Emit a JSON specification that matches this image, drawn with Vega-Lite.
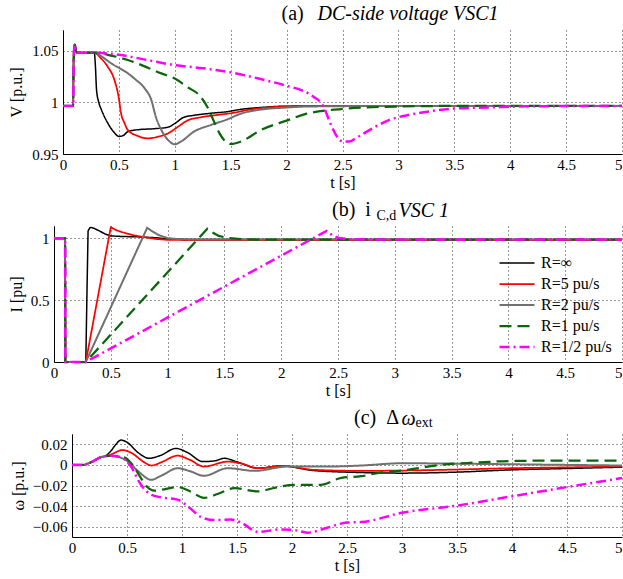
{
  "$schema": "https://vega.github.io/schema/vega-lite/v6.json",
  "padding": {"left": 7, "top": 3, "right": 0, "bottom": 0},
  "background": "white",
  "config": {
    "font": "Liberation Serif",
    "view": {"stroke": null},
    "axis": {
      "labelFont": "Liberation Serif", "titleFont": "Liberation Serif",
      "labelFontSize": 15, "titleFontSize": 16, "labelColor": "#000", "titleColor": "#000",
      "titleFontWeight": "normal", "domainColor": "#000", "domainWidth": 1,
      "ticks": false, "gridColor": "#000", "gridDash": [1, 3], "gridOpacity": 0.8, "gridWidth": 1
    },
    "title": {
      "font": "Liberation Serif", "fontSize": 20, "fontWeight": "normal", "color": "#000",
      "anchor": "start", "frame": "group"
    },
    "legend": {
      "labelFont": "Liberation Serif", "labelFontSize": 16, "labelColor": "#000",
      "symbolType": "stroke", "symbolSize": 1225, "clipHeight": 16, "rowPadding": 5,
      "labelOffset": 5, "padding": 0, "title": null
    }
  },
  "datasets": {
    "a": [
      {"s": "R=∞", "t": 0, "v": 0.9965}, {"s": "R=∞", "t": 0.09, "v": 0.9965}, {"s": "R=∞", "t": 0.095, "v": 1.04}, {"s": "R=∞", "t": 0.105, "v": 1.056}, {"s": "R=∞", "t": 0.115, "v": 1.05}, {"s": "R=∞", "t": 0.13, "v": 1.048}, {"s": "R=∞", "t": 0.28, "v": 1.048},
      {"s": "R=∞", "t": 0.29, "v": 1.035}, {"s": "R=∞", "t": 0.3, "v": 1.012}, {"s": "R=∞", "t": 0.32, "v": 1.0}, {"s": "R=∞", "t": 0.343, "v": 0.993}, {"s": "R=∞", "t": 0.4, "v": 0.98}, {"s": "R=∞", "t": 0.46, "v": 0.9706}, {"s": "R=∞", "t": 0.5, "v": 0.967}, {"s": "R=∞", "t": 0.54, "v": 0.968}, {"s": "R=∞", "t": 0.58, "v": 0.9716}, {"s": "R=∞", "t": 0.67, "v": 0.9735}, {"s": "R=∞", "t": 0.82, "v": 0.9745}, {"s": "R=∞", "t": 0.94, "v": 0.976}, {"s": "R=∞", "t": 1.0, "v": 0.9795}, {"s": "R=∞", "t": 1.08, "v": 0.9855}, {"s": "R=∞", "t": 1.17, "v": 0.9874}, {"s": "R=∞", "t": 1.32, "v": 0.9894}, {"s": "R=∞", "t": 1.47, "v": 0.991}, {"s": "R=∞", "t": 1.59, "v": 0.9932}, {"s": "R=∞", "t": 1.77, "v": 0.995}, {"s": "R=∞", "t": 2.0, "v": 0.9963}, {"s": "R=∞", "t": 2.5, "v": 0.9965}, {"s": "R=∞", "t": 5, "v": 0.9965},

      {"s": "R=5 pu/s", "t": 0, "v": 0.9965}, {"s": "R=5 pu/s", "t": 0.09, "v": 0.9965}, {"s": "R=5 pu/s", "t": 0.095, "v": 1.04}, {"s": "R=5 pu/s", "t": 0.105, "v": 1.056}, {"s": "R=5 pu/s", "t": 0.115, "v": 1.05}, {"s": "R=5 pu/s", "t": 0.13, "v": 1.048}, {"s": "R=5 pu/s", "t": 0.28, "v": 1.048},
      {"s": "R=5 pu/s", "t": 0.34, "v": 1.0426}, {"s": "R=5 pu/s", "t": 0.4, "v": 1.0345}, {"s": "R=5 pu/s", "t": 0.46, "v": 1.0216}, {"s": "R=5 pu/s", "t": 0.497, "v": 1.0055}, {"s": "R=5 pu/s", "t": 0.52, "v": 0.989}, {"s": "R=5 pu/s", "t": 0.55, "v": 0.98}, {"s": "R=5 pu/s", "t": 0.58, "v": 0.9732}, {"s": "R=5 pu/s", "t": 0.67, "v": 0.9674}, {"s": "R=5 pu/s", "t": 0.76, "v": 0.9651}, {"s": "R=5 pu/s", "t": 0.85, "v": 0.9668}, {"s": "R=5 pu/s", "t": 0.94, "v": 0.97}, {"s": "R=5 pu/s", "t": 1.03, "v": 0.9765}, {"s": "R=5 pu/s", "t": 1.11, "v": 0.9823}, {"s": "R=5 pu/s", "t": 1.23, "v": 0.9855}, {"s": "R=5 pu/s", "t": 1.38, "v": 0.9878}, {"s": "R=5 pu/s", "t": 1.53, "v": 0.99}, {"s": "R=5 pu/s", "t": 1.65, "v": 0.9926}, {"s": "R=5 pu/s", "t": 1.83, "v": 0.995}, {"s": "R=5 pu/s", "t": 2.06, "v": 0.9962}, {"s": "R=5 pu/s", "t": 2.5, "v": 0.9966}, {"s": "R=5 pu/s", "t": 5, "v": 0.9966},

      {"s": "R=2 pu/s", "t": 0, "v": 0.9965}, {"s": "R=2 pu/s", "t": 0.09, "v": 0.9965}, {"s": "R=2 pu/s", "t": 0.095, "v": 1.04}, {"s": "R=2 pu/s", "t": 0.105, "v": 1.056}, {"s": "R=2 pu/s", "t": 0.115, "v": 1.05}, {"s": "R=2 pu/s", "t": 0.13, "v": 1.048}, {"s": "R=2 pu/s", "t": 0.28, "v": 1.048},
      {"s": "R=2 pu/s", "t": 0.35, "v": 1.044}, {"s": "R=2 pu/s", "t": 0.43, "v": 1.0378}, {"s": "R=2 pu/s", "t": 0.58, "v": 1.0281}, {"s": "R=2 pu/s", "t": 0.65, "v": 1.022}, {"s": "R=2 pu/s", "t": 0.73, "v": 1.0136}, {"s": "R=2 pu/s", "t": 0.79, "v": 1.0023}, {"s": "R=2 pu/s", "t": 0.83, "v": 0.9861}, {"s": "R=2 pu/s", "t": 0.88, "v": 0.9732}, {"s": "R=2 pu/s", "t": 0.94, "v": 0.9635}, {"s": "R=2 pu/s", "t": 1.0, "v": 0.9594}, {"s": "R=2 pu/s", "t": 1.055, "v": 0.962}, {"s": "R=2 pu/s", "t": 1.17, "v": 0.9716}, {"s": "R=2 pu/s", "t": 1.32, "v": 0.978}, {"s": "R=2 pu/s", "t": 1.47, "v": 0.9835}, {"s": "R=2 pu/s", "t": 1.59, "v": 0.989}, {"s": "R=2 pu/s", "t": 1.77, "v": 0.993}, {"s": "R=2 pu/s", "t": 2.0, "v": 0.995}, {"s": "R=2 pu/s", "t": 2.2, "v": 0.996}, {"s": "R=2 pu/s", "t": 3, "v": 0.9965}, {"s": "R=2 pu/s", "t": 5, "v": 0.9965},

      {"s": "R=1 pu/s", "t": 0, "v": 0.9965}, {"s": "R=1 pu/s", "t": 0.09, "v": 0.9965}, {"s": "R=1 pu/s", "t": 0.095, "v": 1.04}, {"s": "R=1 pu/s", "t": 0.105, "v": 1.056}, {"s": "R=1 pu/s", "t": 0.115, "v": 1.05}, {"s": "R=1 pu/s", "t": 0.13, "v": 1.048}, {"s": "R=1 pu/s", "t": 0.28, "v": 1.048},
      {"s": "R=1 pu/s", "t": 0.4, "v": 1.046}, {"s": "R=1 pu/s", "t": 0.58, "v": 1.041}, {"s": "R=1 pu/s", "t": 0.88, "v": 1.028}, {"s": "R=1 pu/s", "t": 1.0, "v": 1.023}, {"s": "R=1 pu/s", "t": 1.11, "v": 1.015}, {"s": "R=1 pu/s", "t": 1.23, "v": 1.0055}, {"s": "R=1 pu/s", "t": 1.29, "v": 0.9958}, {"s": "R=1 pu/s", "t": 1.35, "v": 0.9816}, {"s": "R=1 pu/s", "t": 1.4, "v": 0.97}, {"s": "R=1 pu/s", "t": 1.44, "v": 0.9636}, {"s": "R=1 pu/s", "t": 1.5, "v": 0.9597}, {"s": "R=1 pu/s", "t": 1.59, "v": 0.962}, {"s": "R=1 pu/s", "t": 1.77, "v": 0.9732}, {"s": "R=1 pu/s", "t": 2.0, "v": 0.9823}, {"s": "R=1 pu/s", "t": 2.18, "v": 0.989}, {"s": "R=1 pu/s", "t": 2.47, "v": 0.9933}, {"s": "R=1 pu/s", "t": 2.98, "v": 0.9959}, {"s": "R=1 pu/s", "t": 3.5, "v": 0.9965}, {"s": "R=1 pu/s", "t": 5, "v": 0.9965},

      {"s": "R=1/2 pu/s", "t": 0, "v": 0.9965}, {"s": "R=1/2 pu/s", "t": 0.09, "v": 0.9965}, {"s": "R=1/2 pu/s", "t": 0.095, "v": 1.04}, {"s": "R=1/2 pu/s", "t": 0.105, "v": 1.056}, {"s": "R=1/2 pu/s", "t": 0.115, "v": 1.05}, {"s": "R=1/2 pu/s", "t": 0.13, "v": 1.048}, {"s": "R=1/2 pu/s", "t": 0.28, "v": 1.048},
      {"s": "R=1/2 pu/s", "t": 0.5, "v": 1.046}, {"s": "R=1/2 pu/s", "t": 0.75, "v": 1.041}, {"s": "R=1/2 pu/s", "t": 1.0, "v": 1.036}, {"s": "R=1/2 pu/s", "t": 1.25, "v": 1.033}, {"s": "R=1/2 pu/s", "t": 1.5, "v": 1.029}, {"s": "R=1/2 pu/s", "t": 1.75, "v": 1.023}, {"s": "R=1/2 pu/s", "t": 2.0, "v": 1.016}, {"s": "R=1/2 pu/s", "t": 2.15, "v": 1.011}, {"s": "R=1/2 pu/s", "t": 2.24, "v": 1.0055}, {"s": "R=1/2 pu/s", "t": 2.33, "v": 0.996}, {"s": "R=1/2 pu/s", "t": 2.39, "v": 0.98}, {"s": "R=1/2 pu/s", "t": 2.45, "v": 0.967}, {"s": "R=1/2 pu/s", "t": 2.5, "v": 0.962}, {"s": "R=1/2 pu/s", "t": 2.56, "v": 0.962}, {"s": "R=1/2 pu/s", "t": 2.63, "v": 0.966}, {"s": "R=1/2 pu/s", "t": 2.77, "v": 0.975}, {"s": "R=1/2 pu/s", "t": 2.92, "v": 0.983}, {"s": "R=1/2 pu/s", "t": 3.1, "v": 0.988}, {"s": "R=1/2 pu/s", "t": 3.3, "v": 0.9916}, {"s": "R=1/2 pu/s", "t": 3.5, "v": 0.994}, {"s": "R=1/2 pu/s", "t": 3.8, "v": 0.995}, {"s": "R=1/2 pu/s", "t": 4.2, "v": 0.9962}, {"s": "R=1/2 pu/s", "t": 5, "v": 0.9965}
    ],
    "b": [
      {"s": "R=∞", "t": 0, "v": 1}, {"s": "R=∞", "t": 0.098, "v": 1}, {"s": "R=∞", "t": 0.1, "v": 0}, {"s": "R=∞", "t": 0.28, "v": 0},
      {"s": "R=∞", "t": 0.29, "v": 0.55}, {"s": "R=∞", "t": 0.3, "v": 1.06}, {"s": "R=∞", "t": 0.315, "v": 1.085}, {"s": "R=∞", "t": 0.33, "v": 1.088}, {"s": "R=∞", "t": 0.36, "v": 1.078}, {"s": "R=∞", "t": 0.4, "v": 1.06}, {"s": "R=∞", "t": 0.45, "v": 1.035}, {"s": "R=∞", "t": 0.5, "v": 1.02}, {"s": "R=∞", "t": 0.6, "v": 1.015}, {"s": "R=∞", "t": 0.75, "v": 1.012}, {"s": "R=∞", "t": 0.9, "v": 1.005}, {"s": "R=∞", "t": 1.0, "v": 0.995}, {"s": "R=∞", "t": 1.2, "v": 0.99}, {"s": "R=∞", "t": 5, "v": 0.99},

      {"s": "R=5 pu/s", "t": 0, "v": 1}, {"s": "R=5 pu/s", "t": 0.098, "v": 1}, {"s": "R=5 pu/s", "t": 0.1, "v": 0}, {"s": "R=5 pu/s", "t": 0.28, "v": 0},
      {"s": "R=5 pu/s", "t": 0.5, "v": 1.09}, {"s": "R=5 pu/s", "t": 0.55, "v": 1.065}, {"s": "R=5 pu/s", "t": 0.6, "v": 1.05}, {"s": "R=5 pu/s", "t": 0.7, "v": 1.025}, {"s": "R=5 pu/s", "t": 0.8, "v": 1.008}, {"s": "R=5 pu/s", "t": 0.9, "v": 0.995}, {"s": "R=5 pu/s", "t": 1.0, "v": 0.988}, {"s": "R=5 pu/s", "t": 1.3, "v": 0.985}, {"s": "R=5 pu/s", "t": 5, "v": 0.985},

      {"s": "R=2 pu/s", "t": 0, "v": 1}, {"s": "R=2 pu/s", "t": 0.098, "v": 1}, {"s": "R=2 pu/s", "t": 0.1, "v": 0}, {"s": "R=2 pu/s", "t": 0.28, "v": 0},
      {"s": "R=2 pu/s", "t": 0.82, "v": 1.085}, {"s": "R=2 pu/s", "t": 0.86, "v": 1.06}, {"s": "R=2 pu/s", "t": 0.92, "v": 1.027}, {"s": "R=2 pu/s", "t": 1.0, "v": 1.002}, {"s": "R=2 pu/s", "t": 1.1, "v": 0.993}, {"s": "R=2 pu/s", "t": 1.3, "v": 0.99}, {"s": "R=2 pu/s", "t": 5, "v": 0.99},

      {"s": "R=1 pu/s", "t": 0, "v": 1}, {"s": "R=1 pu/s", "t": 0.098, "v": 1}, {"s": "R=1 pu/s", "t": 0.1, "v": 0}, {"s": "R=1 pu/s", "t": 0.28, "v": 0},
      {"s": "R=1 pu/s", "t": 1.35, "v": 1.078}, {"s": "R=1 pu/s", "t": 1.4, "v": 1.045}, {"s": "R=1 pu/s", "t": 1.45, "v": 1.02}, {"s": "R=1 pu/s", "t": 1.53, "v": 1.003}, {"s": "R=1 pu/s", "t": 1.65, "v": 0.993}, {"s": "R=1 pu/s", "t": 1.8, "v": 0.99}, {"s": "R=1 pu/s", "t": 5, "v": 0.99},

      {"s": "R=1/2 pu/s", "t": 0, "v": 1}, {"s": "R=1/2 pu/s", "t": 0.098, "v": 1}, {"s": "R=1/2 pu/s", "t": 0.1, "v": 0}, {"s": "R=1/2 pu/s", "t": 0.28, "v": 0},
      {"s": "R=1/2 pu/s", "t": 2.4, "v": 1.06}, {"s": "R=1/2 pu/s", "t": 2.45, "v": 1.025}, {"s": "R=1/2 pu/s", "t": 2.5, "v": 1.005}, {"s": "R=1/2 pu/s", "t": 2.6, "v": 0.993}, {"s": "R=1/2 pu/s", "t": 2.8, "v": 0.99}, {"s": "R=1/2 pu/s", "t": 5, "v": 0.99}
    ],
    "c": [
      {"s": "R=∞", "t": 0, "v": 0}, {"s": "R=∞", "t": 0.1, "v": 0}, {"s": "R=∞", "t": 0.15, "v": 0.0015}, {"s": "R=∞", "t": 0.2, "v": 0.004}, {"s": "R=∞", "t": 0.25, "v": 0.007}, {"s": "R=∞", "t": 0.3, "v": 0.0085},
      {"s": "R=∞", "t": 0.35, "v": 0.013}, {"s": "R=∞", "t": 0.4, "v": 0.02}, {"s": "R=∞", "t": 0.445, "v": 0.0241}, {"s": "R=∞", "t": 0.5, "v": 0.022}, {"s": "R=∞", "t": 0.6, "v": 0.012}, {"s": "R=∞", "t": 0.7, "v": 0.0064}, {"s": "R=∞", "t": 0.8, "v": 0.009}, {"s": "R=∞", "t": 0.945, "v": 0.016}, {"s": "R=∞", "t": 1.05, "v": 0.012}, {"s": "R=∞", "t": 1.19, "v": 0.0032}, {"s": "R=∞", "t": 1.3, "v": 0.004}, {"s": "R=∞", "t": 1.385, "v": 0.0064}, {"s": "R=∞", "t": 1.5, "v": 0.003}, {"s": "R=∞", "t": 1.69, "v": -0.0032}, {"s": "R=∞", "t": 1.9, "v": -0.001}, {"s": "R=∞", "t": 2.2, "v": -0.0055}, {"s": "R=∞", "t": 2.63, "v": -0.0074}, {"s": "R=∞", "t": 3.0, "v": -0.008}, {"s": "R=∞", "t": 3.5, "v": -0.007}, {"s": "R=∞", "t": 4.0, "v": -0.0048}, {"s": "R=∞", "t": 4.5, "v": -0.0035}, {"s": "R=∞", "t": 5, "v": -0.0022},

      {"s": "R=5 pu/s", "t": 0, "v": 0}, {"s": "R=5 pu/s", "t": 0.1, "v": 0}, {"s": "R=5 pu/s", "t": 0.15, "v": 0.0015}, {"s": "R=5 pu/s", "t": 0.2, "v": 0.004}, {"s": "R=5 pu/s", "t": 0.25, "v": 0.007}, {"s": "R=5 pu/s", "t": 0.3, "v": 0.0085},
      {"s": "R=5 pu/s", "t": 0.35, "v": 0.01}, {"s": "R=5 pu/s", "t": 0.46, "v": 0.0144}, {"s": "R=5 pu/s", "t": 0.55, "v": 0.011}, {"s": "R=5 pu/s", "t": 0.65, "v": 0.003}, {"s": "R=5 pu/s", "t": 0.724, "v": -0.0006}, {"s": "R=5 pu/s", "t": 0.82, "v": 0.003}, {"s": "R=5 pu/s", "t": 0.96, "v": 0.009}, {"s": "R=5 pu/s", "t": 1.07, "v": 0.005}, {"s": "R=5 pu/s", "t": 1.2, "v": -0.0016}, {"s": "R=5 pu/s", "t": 1.415, "v": 0.0032}, {"s": "R=5 pu/s", "t": 1.55, "v": 0.001}, {"s": "R=5 pu/s", "t": 1.69, "v": -0.0032}, {"s": "R=5 pu/s", "t": 1.93, "v": -0.001}, {"s": "R=5 pu/s", "t": 2.2, "v": -0.0048}, {"s": "R=5 pu/s", "t": 2.63, "v": -0.0058}, {"s": "R=5 pu/s", "t": 3.0, "v": -0.0055}, {"s": "R=5 pu/s", "t": 3.5, "v": -0.0045}, {"s": "R=5 pu/s", "t": 4.0, "v": -0.0032}, {"s": "R=5 pu/s", "t": 4.5, "v": -0.0024}, {"s": "R=5 pu/s", "t": 5, "v": -0.0016},

      {"s": "R=2 pu/s", "t": 0, "v": 0}, {"s": "R=2 pu/s", "t": 0.1, "v": 0}, {"s": "R=2 pu/s", "t": 0.15, "v": 0.0015}, {"s": "R=2 pu/s", "t": 0.2, "v": 0.004}, {"s": "R=2 pu/s", "t": 0.25, "v": 0.007}, {"s": "R=2 pu/s", "t": 0.3, "v": 0.0085},
      {"s": "R=2 pu/s", "t": 0.35, "v": 0.009}, {"s": "R=2 pu/s", "t": 0.415, "v": 0.008}, {"s": "R=2 pu/s", "t": 0.5, "v": 0.004}, {"s": "R=2 pu/s", "t": 0.6, "v": -0.006}, {"s": "R=2 pu/s", "t": 0.72, "v": -0.0144}, {"s": "R=2 pu/s", "t": 0.82, "v": -0.01}, {"s": "R=2 pu/s", "t": 0.96, "v": -0.0032}, {"s": "R=2 pu/s", "t": 1.07, "v": -0.006}, {"s": "R=2 pu/s", "t": 1.2, "v": -0.0106}, {"s": "R=2 pu/s", "t": 1.415, "v": -0.0032}, {"s": "R=2 pu/s", "t": 1.66, "v": -0.0058}, {"s": "R=2 pu/s", "t": 1.96, "v": -0.0016}, {"s": "R=2 pu/s", "t": 2.32, "v": -0.0016}, {"s": "R=2 pu/s", "t": 2.63, "v": -0.0006}, {"s": "R=2 pu/s", "t": 3.0, "v": 0.0016}, {"s": "R=2 pu/s", "t": 3.5, "v": 0.0012}, {"s": "R=2 pu/s", "t": 4.0, "v": 0.0006}, {"s": "R=2 pu/s", "t": 4.5, "v": 0.0}, {"s": "R=2 pu/s", "t": 5, "v": -0.0006},

      {"s": "R=1 pu/s", "t": 0, "v": 0}, {"s": "R=1 pu/s", "t": 0.1, "v": 0}, {"s": "R=1 pu/s", "t": 0.15, "v": 0.0015}, {"s": "R=1 pu/s", "t": 0.2, "v": 0.004}, {"s": "R=1 pu/s", "t": 0.25, "v": 0.007}, {"s": "R=1 pu/s", "t": 0.3, "v": 0.0085},
      {"s": "R=1 pu/s", "t": 0.35, "v": 0.0088}, {"s": "R=1 pu/s", "t": 0.476, "v": 0.0074}, {"s": "R=1 pu/s", "t": 0.55, "v": 0.0}, {"s": "R=1 pu/s", "t": 0.627, "v": -0.0128}, {"s": "R=1 pu/s", "t": 0.68, "v": -0.021}, {"s": "R=1 pu/s", "t": 0.75, "v": -0.025}, {"s": "R=1 pu/s", "t": 0.85, "v": -0.0235}, {"s": "R=1 pu/s", "t": 0.96, "v": -0.0215}, {"s": "R=1 pu/s", "t": 1.08, "v": -0.026}, {"s": "R=1 pu/s", "t": 1.2, "v": -0.032}, {"s": "R=1 pu/s", "t": 1.33, "v": -0.028}, {"s": "R=1 pu/s", "t": 1.475, "v": -0.0225}, {"s": "R=1 pu/s", "t": 1.69, "v": -0.0257}, {"s": "R=1 pu/s", "t": 1.85, "v": -0.022}, {"s": "R=1 pu/s", "t": 2.02, "v": -0.0193}, {"s": "R=1 pu/s", "t": 2.26, "v": -0.0193}, {"s": "R=1 pu/s", "t": 2.45, "v": -0.0125}, {"s": "R=1 pu/s", "t": 2.63, "v": -0.011}, {"s": "R=1 pu/s", "t": 2.75, "v": -0.0085}, {"s": "R=1 pu/s", "t": 3.0, "v": -0.0055}, {"s": "R=1 pu/s", "t": 3.35, "v": 0.0}, {"s": "R=1 pu/s", "t": 3.66, "v": 0.0022}, {"s": "R=1 pu/s", "t": 4.0, "v": 0.0038}, {"s": "R=1 pu/s", "t": 4.5, "v": 0.0042}, {"s": "R=1 pu/s", "t": 5, "v": 0.0042},

      {"s": "R=1/2 pu/s", "t": 0, "v": 0}, {"s": "R=1/2 pu/s", "t": 0.1, "v": 0}, {"s": "R=1/2 pu/s", "t": 0.15, "v": 0.0015}, {"s": "R=1/2 pu/s", "t": 0.2, "v": 0.004}, {"s": "R=1/2 pu/s", "t": 0.25, "v": 0.007}, {"s": "R=1/2 pu/s", "t": 0.3, "v": 0.0085},
      {"s": "R=1/2 pu/s", "t": 0.35, "v": 0.0088}, {"s": "R=1/2 pu/s", "t": 0.445, "v": 0.0074}, {"s": "R=1/2 pu/s", "t": 0.536, "v": -0.0016}, {"s": "R=1/2 pu/s", "t": 0.627, "v": -0.0193}, {"s": "R=1/2 pu/s", "t": 0.72, "v": -0.0289}, {"s": "R=1/2 pu/s", "t": 0.81, "v": -0.0315}, {"s": "R=1/2 pu/s", "t": 0.96, "v": -0.0337}, {"s": "R=1/2 pu/s", "t": 1.05, "v": -0.04}, {"s": "R=1/2 pu/s", "t": 1.17, "v": -0.0504}, {"s": "R=1/2 pu/s", "t": 1.29, "v": -0.0536}, {"s": "R=1/2 pu/s", "t": 1.445, "v": -0.053}, {"s": "R=1/2 pu/s", "t": 1.536, "v": -0.056}, {"s": "R=1/2 pu/s", "t": 1.69, "v": -0.065}, {"s": "R=1/2 pu/s", "t": 1.9, "v": -0.0626}, {"s": "R=1/2 pu/s", "t": 2.02, "v": -0.0632}, {"s": "R=1/2 pu/s", "t": 2.14, "v": -0.0658}, {"s": "R=1/2 pu/s", "t": 2.32, "v": -0.061}, {"s": "R=1/2 pu/s", "t": 2.5, "v": -0.056}, {"s": "R=1/2 pu/s", "t": 2.63, "v": -0.0555}, {"s": "R=1/2 pu/s", "t": 3.0, "v": -0.0465}, {"s": "R=1/2 pu/s", "t": 3.5, "v": -0.0395}, {"s": "R=1/2 pu/s", "t": 4.0, "v": -0.0305}, {"s": "R=1/2 pu/s", "t": 4.5, "v": -0.0215}, {"s": "R=1/2 pu/s", "t": 5, "v": -0.0128}
    ]
  },
  "vconcat": [
    {
      "width": 568, "height": 124,
      "data": {"name": "a"},
      "layer": [
        {
          "mark": {"type": "line", "interpolate": "monotone"},
          "encoding": {
            "x": {"field": "t", "type": "quantitative", "scale": {"domain": [0, 5], "range": [9, 568]},
                  "axis": {"orient": "bottom", "values": [0, 0.5, 1, 1.5, 2, 2.5, 3, 3.5, 4, 4.5, 5], "format": "~g", "title": "t [s]", "labelPadding": 3, "titlePadding": 2, "labelFlush": false,
                           "labelAlign": {"condition": {"test": "datum.value == 5", "value": "right"}, "value": "center"}}},
            "y": {"field": "v", "type": "quantitative", "scale": {"domain": [0.95, 1.07], "nice": false, "zero": false},
                  "axis": {"orient": "left", "values": [0.95, 1, 1.05], "format": "~g", "title": "V [p.u.]", "offset": -9, "labelPadding": 5, "titleX": -47, "titleBaseline": "middle"}},
            "color": {"field": "s", "type": "nominal", "legend": null,
                      "scale": {"domain": ["R=∞", "R=5 pu/s", "R=2 pu/s", "R=1 pu/s", "R=1/2 pu/s"], "range": ["#000000", "#ff0000", "#707070", "#0b660b", "#ff00ff"]}},
            "strokeDash": {"field": "s", "type": "nominal", "legend": null,
                      "scale": {"domain": ["R=∞", "R=5 pu/s", "R=2 pu/s", "R=1 pu/s", "R=1/2 pu/s"], "range": [[1, 0], [1, 0], [1, 0], [12, 6], [10, 4, 2, 4]]}},
            "strokeWidth": {"field": "s", "type": "ordinal", "legend": null,
                      "scale": {"domain": ["R=∞", "R=5 pu/s", "R=2 pu/s", "R=1 pu/s", "R=1/2 pu/s"], "range": [1.5, 2.5, 2.5, 2.5, 2.5]}}
          }
        },
        {
          "mark": {"type": "point", "opacity": 0},
          "encoding": {
            "x": {"field": "t", "type": "quantitative",
                  "axis": {"orient": "top", "labels": false, "domain": false, "grid": false, "ticks": false, "title": "(a)", "titleFontSize": 20, "titleX": 227, "titleY": -11, "titleAlign": "left", "titleBaseline": "alphabetic", "titleAnchor": null}},
            "y": {"field": "v", "type": "quantitative",
                  "axis": {"orient": "right", "labels": false, "domain": false, "grid": false, "ticks": false, "title": "DC-side voltage VSC1", "titleFontSize": 20, "titleFontStyle": "italic", "titleAngle": 0, "titleX": -305, "titleY": -11, "titleAlign": "left", "titleBaseline": "alphabetic", "titleAnchor": null}}
          }
        }
      ],
      "resolve": {"axis": {"x": "independent", "y": "independent"}}
    },
    {
      "width": 568, "height": 136,
      "data": {"name": "b"},
      "title": {"text": "(b)\u00a0\u00a0i", "dx": 278, "offset": -20},
      "layer": [
        {
          "mark": {"type": "line"},
          "encoding": {
            "x": {"field": "t", "type": "quantitative", "scale": {"domain": [0, 5], "range": [0, 568]},
                  "axis": {"orient": "bottom", "values": [0, 0.5, 1, 1.5, 2, 2.5, 3, 3.5, 4, 4.5, 5], "format": "~g", "title": "t [s]", "labelPadding": 3, "titlePadding": 2, "labelFlush": false,
                           "labelAlign": {"condition": {"test": "datum.value == 5", "value": "right"}, "value": "center"}}},
            "y": {"field": "v", "type": "quantitative", "scale": {"domain": [0, 1.1], "nice": false, "zero": false},
                  "axis": {"orient": "left", "values": [0, 0.5, 1], "format": "~g", "title": "I [pu]", "labelPadding": 5, "titleX": -38, "titleBaseline": "middle"}},
            "color": {"field": "s", "type": "nominal",
                      "scale": {"domain": ["R=∞", "R=5 pu/s", "R=2 pu/s", "R=1 pu/s", "R=1/2 pu/s"], "range": ["#000000", "#ff0000", "#707070", "#0b660b", "#ff00ff"]},
                      "legend": {"orient": "none", "legendX": 444, "legendY": 29, "labelFont": "Liberation Serif"}},
            "strokeDash": {"field": "s", "type": "nominal",
                      "scale": {"domain": ["R=∞", "R=5 pu/s", "R=2 pu/s", "R=1 pu/s", "R=1/2 pu/s"], "range": [[1, 0], [1, 0], [1, 0], [12, 6], [10, 4, 2, 4]]},
                      "legend": {"orient": "none", "legendX": 444, "legendY": 29, "labelFont": "Liberation Serif"}},
            "strokeWidth": {"field": "s", "type": "ordinal",
                      "scale": {"domain": ["R=∞", "R=5 pu/s", "R=2 pu/s", "R=1 pu/s", "R=1/2 pu/s"], "range": [1.5, 2.5, 2.5, 2.5, 2.5]},
                      "legend": {"orient": "none", "legendX": 444, "legendY": 29, "labelFont": "Liberation Serif"}}
          }
        },
        {
          "mark": {"type": "point", "opacity": 0},
          "encoding": {
            "x": {"field": "t", "type": "quantitative",
                  "axis": {"orient": "top", "labels": false, "domain": false, "grid": false, "ticks": false, "title": "C,d", "titleFontSize": 14, "titleX": 322, "titleY": -7, "titleAlign": "left", "titleBaseline": "alphabetic", "titleAnchor": null}},
            "y": {"field": "v", "type": "quantitative",
                  "axis": {"orient": "right", "labels": false, "domain": false, "grid": false, "ticks": false, "title": "VSC 1", "titleFontSize": 20, "titleFontStyle": "italic", "titleAngle": 0, "titleX": -224, "titleY": -10, "titleAlign": "left", "titleBaseline": "alphabetic", "titleAnchor": null}}
          }
        }
      ],
      "resolve": {"axis": {"x": "independent", "y": "independent"}}
    },
    {
      "width": 568, "height": 103,
      "data": {"name": "c"},
      "title": {"text": "(c)\u00a0\u00a0Δ", "dx": 300, "offset": -20},
      "layer": [
        {
          "mark": {"type": "line", "interpolate": "monotone"},
          "encoding": {
            "x": {"field": "t", "type": "quantitative", "scale": {"domain": [0, 5], "range": [18, 568]},
                  "axis": {"orient": "bottom", "values": [0, 0.5, 1, 1.5, 2, 2.5, 3, 3.5, 4, 4.5, 5], "format": "~g", "title": "t [s]", "labelPadding": 3, "titlePadding": 2, "labelFlush": false,
                           "labelAlign": {"condition": {"test": "datum.value == 5", "value": "right"}, "value": "center"}}},
            "y": {"field": "v", "type": "quantitative", "scale": {"domain": [-0.07, 0.03], "nice": false, "zero": false},
                  "axis": {"orient": "left", "values": [-0.06, -0.04, -0.02, 0, 0.02], "format": "~g", "title": "ω [p.u.]", "offset": -18, "labelPadding": 5, "titleX": -54, "titleBaseline": "middle"}},
            "color": {"field": "s", "type": "nominal", "legend": null,
                      "scale": {"domain": ["R=∞", "R=5 pu/s", "R=2 pu/s", "R=1 pu/s", "R=1/2 pu/s"], "range": ["#000000", "#ff0000", "#707070", "#0b660b", "#ff00ff"]}},
            "strokeDash": {"field": "s", "type": "nominal", "legend": null,
                      "scale": {"domain": ["R=∞", "R=5 pu/s", "R=2 pu/s", "R=1 pu/s", "R=1/2 pu/s"], "range": [[1, 0], [1, 0], [1, 0], [12, 6], [10, 4, 2, 4]]}},
            "strokeWidth": {"field": "s", "type": "ordinal", "legend": null,
                      "scale": {"domain": ["R=∞", "R=5 pu/s", "R=2 pu/s", "R=1 pu/s", "R=1/2 pu/s"], "range": [1.5, 2.5, 2.5, 2.5, 2.5]}}
          }
        },
        {
          "mark": {"type": "point", "opacity": 0},
          "encoding": {
            "x": {"field": "t", "type": "quantitative",
                  "axis": {"orient": "top", "labels": false, "domain": false, "grid": false, "ticks": false, "title": "ext", "titleFontSize": 14, "titleX": 361, "titleY": -8, "titleAlign": "left", "titleBaseline": "alphabetic", "titleAnchor": null}},
            "y": {"field": "v", "type": "quantitative",
                  "axis": {"orient": "right", "labels": false, "domain": false, "grid": false, "ticks": false, "title": "ω", "titleFontSize": 20, "titleFontStyle": "italic", "titleAngle": 0, "titleX": -221, "titleY": -10, "titleAlign": "left", "titleBaseline": "alphabetic", "titleAnchor": null}}
          }
        }
      ],
      "resolve": {"axis": {"x": "independent", "y": "independent"}}
    }
  ],
  "spacing": 10,
  "resolve": {"legend": {"color": "independent", "strokeDash": "independent", "strokeWidth": "independent"}}
}
